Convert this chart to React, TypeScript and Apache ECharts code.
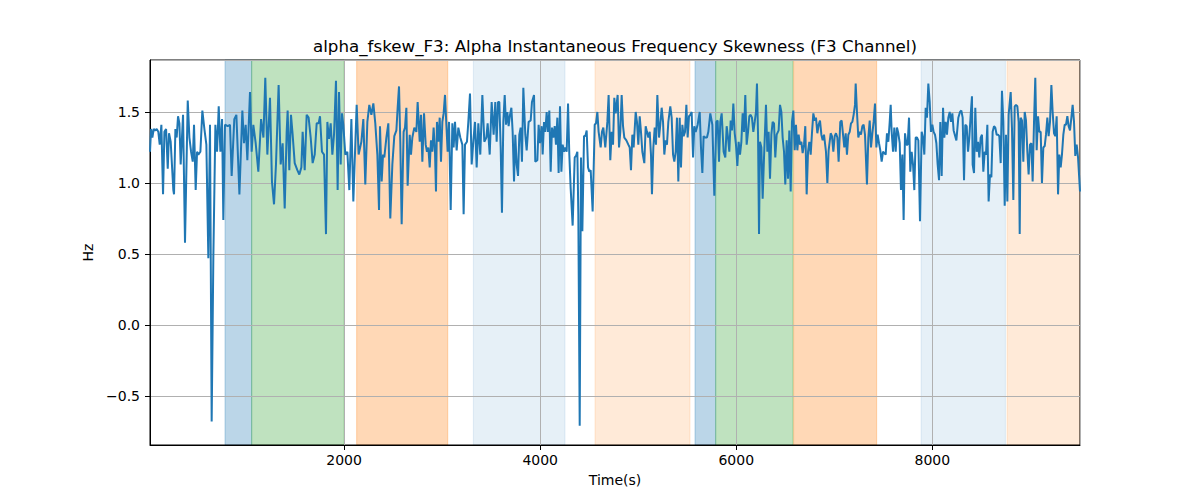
import { useEffect, useRef } from 'react';
import * as echarts from 'echarts';

const TITLE = 'alpha_fskew_F3: Alpha Instantaneous Frequency Skewness (F3 Channel)';
const X_NAME = 'Time(s)';
const Y_NAME = 'Hz';

// visible window of the axes
const X_MIN = 20;
const X_MAX = 9506;
const Y_MIN = -0.845;
const Y_MAX = 1.866;

// [time (s), Hz]
const samples: [number, number][] = [
  [20, 1.22], [31, 1.38], [44, 1.32], [58, 1.38], [71, 1.37], [88, 1.38], [105, 1.36], [119, 1.27],
  [136, 1.41], [153, 0.92], [167, 1.36], [184, 1.38], [201, 1.10], [214, 1.35], [231, 1.29], [258, 0.95],
  [265, 0.92], [279, 1.38], [292, 1.32], [306, 1.47], [320, 1.42], [333, 1.13], [357, 1.48], [377, 0.58],
  [405, 1.58], [422, 1.32], [439, 1.22], [456, 1.15], [469, 1.41], [486, 0.95], [500, 1.22], [513, 1.20],
  [534, 1.22], [554, 1.51], [575, 1.38], [595, 1.27], [615, 0.47], [632, 1.41], [649, -0.68], [666, 0.47],
  [687, 1.41], [704, 1.22], [721, 1.54], [738, 1.22], [755, 1.45], [768, 0.74], [785, 1.41], [813, 1.40],
  [836, 1.41], [853, 1.05], [880, 1.45], [901, 1.48], [932, 0.92], [962, 1.51], [979, 1.28], [996, 1.41],
  [1013, 1.16], [1040, 1.64], [1057, 1.22], [1074, 1.41], [1098, 1.28], [1125, 1.08], [1153, 1.45], [1177, 1.32],
  [1196, 1.74], [1217, 1.20], [1244, 1.60], [1264, 1.01], [1285, 0.85], [1305, 1.13], [1332, 1.69], [1353, 1.13],
  [1373, 1.28], [1394, 0.82], [1414, 1.36], [1424, 1.51], [1441, 1.09], [1458, 1.48], [1475, 1.34], [1496, 1.14],
  [1523, 1.09], [1543, 1.06], [1564, 1.11], [1577, 1.36], [1598, 1.09], [1618, 1.48], [1638, 1.46], [1659, 1.32],
  [1679, 1.14], [1700, 1.20], [1720, 1.42], [1740, 1.42], [1754, 1.47], [1774, 1.22], [1795, 1.20], [1815, 0.64],
  [1829, 1.43], [1846, 1.31], [1863, 1.42], [1880, 1.20], [1897, 1.34], [1917, 1.72], [1934, 0.95], [1948, 1.64],
  [1965, 1.13], [1978, 1.49], [1992, 1.41], [2012, 1.20], [2033, 1.22], [2053, 0.95], [2074, 1.45], [2094, 0.87],
  [2128, 1.55], [2148, 1.20], [2176, 1.29], [2196, 1.45], [2216, 0.99], [2237, 1.43], [2257, 1.55], [2278, 1.48],
  [2298, 1.56], [2318, 1.42], [2339, 1.20], [2356, 0.81],
  [2366, 1.40], [2383, 1.01], [2397, 1.20], [2410, 1.18], [2431, 1.32], [2451, 1.42], [2471, 0.75], [2492, 1.13],
  [2512, 1.33], [2533, 1.37], [2546, 1.53], [2560, 1.68], [2573, 1.29], [2587, 0.71], [2607, 1.36], [2621, 1.39],
  [2635, 1.53], [2648, 0.98], [2669, 1.34], [2682, 1.20], [2696, 1.32], [2716, 1.39], [2737, 1.36], [2750, 1.57],
  [2771, 1.29], [2784, 1.48], [2798, 1.15], [2815, 1.49], [2832, 1.27], [2845, 1.22], [2859, 1.25], [2873, 1.11],
  [2886, 1.30], [2900, 1.22], [2913, 1.39], [2927, 1.22], [2937, 0.94], [2947, 1.43], [2961, 1.29], [2975, 1.46],
  [2988, 1.15], [3002, 1.43], [3015, 1.49], [3029, 1.62], [3043, 1.41], [3056, 1.22], [3070, 1.43], [3087, 0.81],
  [3104, 1.42], [3117, 1.25], [3131, 1.43], [3148, 1.23], [3165, 1.39], [3185, 1.32], [3206, 1.27], [3219, 0.78],
  [3233, 1.27], [3253, 1.29], [3267, 1.43], [3284, 1.63], [3301, 1.13], [3321, 1.32], [3335, 1.43], [3352, 1.11],
  [3369, 1.42], [3389, 1.20], [3410, 1.62], [3430, 1.29], [3451, 1.32], [3464, 1.42], [3485, 1.20], [3505, 1.57],
  [3525, 1.34],
  [3542, 1.57], [3556, 1.29], [3570, 1.57], [3583, 1.57], [3597, 1.25], [3610, 0.79], [3624, 1.43], [3638, 1.62],
  [3651, 1.41], [3665, 1.50], [3678, 1.40], [3692, 1.48], [3706, 1.53], [3719, 1.36], [3733, 1.01], [3746, 1.34],
  [3760, 1.13], [3774, 1.05], [3787, 1.34], [3801, 1.39], [3814, 1.15], [3828, 1.67], [3848, 1.34], [3862, 1.23],
  [3882, 1.43], [3903, 1.44], [3916, 1.57], [3937, 1.62], [3950, 1.15], [3971, 1.16], [3984, 1.41], [3998, 1.28],
  [4015, 1.40], [4025, 1.20], [4039, 1.43], [4052, 1.36], [4066, 1.50], [4080, 1.36], [4093, 1.51], [4107, 1.08],
  [4120, 1.39], [4134, 1.32], [4148, 1.40], [4161, 1.27], [4175, 1.46], [4188, 1.07], [4202, 1.54], [4216, 1.08],
  [4229, 1.27], [4243, 1.22], [4256, 1.25], [4270, 1.22], [4284, 1.56], [4297, 1.20], [4311, 0.96], [4331, 0.70],
  [4352, 1.18], [4365, 1.19], [4379, 1.22], [4389, 0.78], [4403, -0.71], [4416, 1.18], [4430, 0.66], [4447, 1.33],
  [4460, 1.33], [4474, 1.37], [4488, 1.11], [4501, 1.08], [4515, 1.09], [4535, 0.80], [4556, 1.41], [4569, 1.42],
  [4583, 1.50], [4596, 1.36], [4617, 1.25], [4630, 1.36], [4644, 1.39], [4664, 1.25], [4685, 1.43], [4698, 1.62],
  [4715, 1.16], [4729, 1.36], [4743, 1.27], [4756, 1.60], [4770, 1.49], [4790, 1.62], [4804, 1.25], [4817, 1.36],
  [4831, 1.62], [4845, 1.40], [4858, 1.32], [4879, 1.30], [4899, 1.27], [4913, 1.25], [4926, 1.09], [4940, 1.34],
  [4953, 1.25], [4974, 1.50], [4987, 1.43], [5001, 1.27], [5015, 1.47], [5028, 1.36], [5042, 1.22], [5062, 1.14],
  [5076, 1.40], [5089, 1.36], [5103, 1.32], [5117, 1.36], [5130, 1.20], [5140, 0.92], [5154, 1.25], [5168, 1.39],
  [5181, 1.27], [5195, 1.62], [5212, 1.32], [5225, 1.41], [5239, 1.53], [5253, 1.43], [5266, 1.20], [5280, 1.30],
  [5293, 1.27], [5307, 1.43], [5327, 1.54], [5341, 1.46], [5355, 1.20], [5368, 1.15], [5382, 1.22], [5395, 1.46],
  [5409, 1.01], [5423, 1.46], [5436, 1.11], [5450, 1.41], [5463, 1.33], [5477, 1.36], [5491, 1.55], [5504, 1.32],
  [5518, 1.47], [5531, 1.48], [5545, 1.50], [5559, 1.18], [5572, 1.40], [5586, 1.36], [5606, 1.41], [5627, 1.50],
  [5640, 1.25], [5654, 1.07], [5667, 1.33], [5681, 1.32], [5701, 1.32], [5715, 1.36], [5735, 1.49], [5756, 1.41],
  [5776, 0.91], [5797, 1.43], [5810, 1.44], [5824, 1.15], [5837, 1.43], [5851, 1.49], [5871, 1.22],
  [5888, 1.18], [5902, 1.40], [5916, 1.32], [5929, 1.22], [5943, 1.44], [5956, 1.37], [5970, 1.56], [5984, 1.35],
  [5997, 1.27], [6011, 1.12], [6024, 1.29], [6038, 1.20], [6052, 1.29], [6065, 1.49], [6079, 1.36], [6092, 1.62],
  [6106, 1.27], [6120, 1.36], [6133, 1.47], [6147, 1.48], [6160, 1.46], [6174, 1.36], [6188, 1.43], [6201, 1.50],
  [6211, 1.70], [6222, 1.34], [6232, 0.64], [6242, 1.29], [6256, 1.25], [6269, 0.89], [6283, 1.18], [6303, 1.55],
  [6317, 1.22], [6330, 1.36], [6344, 1.03], [6358, 1.34], [6371, 1.43], [6385, 1.42], [6398, 1.18], [6412, 1.34],
  [6432, 1.37], [6446, 1.55], [6460, 1.50], [6473, 1.32], [6487, 1.22], [6500, 0.99], [6514, 1.30], [6528, 1.03],
  [6541, 1.37], [6555, 0.94], [6568, 1.43], [6582, 1.51], [6596, 1.23], [6609, 1.41], [6623, 1.23], [6636, 1.34],
  [6650, 1.27], [6664, 1.29], [6677, 1.21], [6691, 1.27], [6704, 1.40], [6718, 0.92], [6732, 1.22], [6745, 1.29],
  [6759, 1.20], [6772, 1.35], [6786, 1.49], [6800, 1.44], [6813, 1.46], [6827, 1.35], [6840, 1.41], [6854, 1.44],
  [6868, 1.34], [6881, 1.30], [6895, 1.34], [6915, 1.22], [6929, 1.00], [6942, 1.23], [6963, 1.35], [6976, 1.33],
  [6990, 1.22], [7004, 1.33], [7017, 1.35], [7031, 1.32], [7044, 1.15],
  [7061, 1.43], [7075, 1.44], [7089, 1.34], [7102, 1.25], [7116, 1.35], [7129, 1.20], [7143, 1.34], [7157, 1.36],
  [7170, 1.42], [7184, 1.43], [7197, 1.48], [7211, 1.55], [7218, 1.70], [7231, 1.50], [7245, 1.32], [7259, 1.36],
  [7272, 1.34], [7286, 1.40], [7299, 1.41], [7313, 1.34], [7333, 0.99], [7347, 1.32], [7361, 1.44], [7374, 1.25],
  [7388, 1.35], [7401, 1.43], [7415, 1.56], [7429, 1.25], [7442, 1.34], [7456, 1.28], [7469, 1.23], [7483, 1.15],
  [7497, 1.22], [7510, 1.21], [7524, 1.20], [7537, 1.35], [7551, 1.29], [7565, 1.43], [7575, 1.55], [7585, 1.36],
  [7599, 1.22], [7612, 1.39], [7626, 1.22], [7639, 1.39], [7653, 1.35], [7667, 1.28], [7680, 0.95], [7694, 1.20],
  [7707, 0.74], [7721, 1.35], [7735, 1.27], [7748, 1.27], [7762, 1.46], [7775, 1.08], [7789, 1.22], [7803, 1.13],
  [7816, 0.95], [7830, 1.32], [7843, 1.32], [7857, 1.30], [7874, 0.73], [7891, 1.36], [7905, 1.32], [7918, 1.20],
  [7932, 1.53], [7945, 1.46], [7959, 1.70], [7973, 1.57], [7986, 1.36], [8000, 1.41], [8013, 1.36], [8027, 1.34],
  [8041, 1.28], [8054, 1.13], [8068, 1.02], [8081, 1.43], [8095, 1.05], [8109, 1.53], [8122, 1.32], [8136, 1.43],
  [8149, 1.34], [8163, 1.46], [8177, 1.50], [8190, 1.43], [8204, 1.49], [8217, 1.37], [8245, 1.30], [8265, 1.46],
  [8282, 1.50], [8296, 1.51], [8309, 1.46], [8323, 1.02], [8336, 1.41], [8350, 1.40], [8364, 1.22], [8377, 1.32],
  [8391, 1.48], [8404, 1.61], [8411, 1.13], [8425, 1.07], [8438, 1.53], [8452, 1.22], [8466, 1.29], [8479, 1.18],
  [8493, 1.32], [8506, 1.34], [8520, 1.08], [8534, 1.22], [8547, 1.20], [8561, 1.41], [8574, 0.87], [8588, 1.06],
  [8602, 1.04], [8615, 1.36], [8629, 1.40], [8642, 1.39], [8656, 1.34], [8670, 1.34], [8683, 1.33], [8697, 1.14],
  [8710, 1.65], [8724, 1.43], [8738, 0.84], [8751, 1.34], [8765, 0.87], [8778, 1.48], [8799, 1.64], [8812, 1.39],
  [8826, 0.88], [8840, 1.54], [8853, 1.55], [8867, 1.54], [8880, 1.43], [8891, 0.64], [8901, 1.46], [8914, 1.44],
  [8928, 1.15], [8942, 1.50], [8955, 1.44], [8969, 1.22], [8982, 1.06], [8996, 1.27], [9010, 1.28], [9023, 1.01],
  [9037, 1.43], [9050, 1.74], [9064, 1.23], [9078, 1.47], [9091, 1.36], [9105, 1.36], [9118, 1.00], [9132, 1.25],
  [9146, 1.26], [9159, 1.34], [9173, 1.46], [9186, 1.33], [9200, 1.43], [9214, 1.69], [9227, 1.50], [9241, 1.35],
  [9254, 1.33], [9268, 1.47], [9282, 0.92], [9295, 1.20], [9309, 1.11], [9322, 1.20], [9336, 1.34], [9350, 1.41],
  [9363, 1.41], [9377, 1.47], [9390, 1.40], [9404, 1.37], [9418, 1.46], [9431, 1.55], [9445, 1.43], [9458, 1.19],
  [9472, 1.27], [9486, 1.18], [9506, 0.94],
];

// shaded phases behind the trace
const spanStart = [785, 1057, 2128, 3318, 4559, 5579, 5790, 6585, 7885, 8762];
const spanEnd = [1057, 2000, 3057, 4253, 5528, 5790, 6579, 7432, 8745, 9510];
const spanKind = ['blue', 'green', 'orange', 'paleBlue', 'paleOrange', 'blue', 'green', 'orange', 'paleBlue', 'paleOrange'];

const SPAN_COLORS: Record<string, string> = {
  blue: 'rgba(31,119,180,0.3)',
  green: 'rgba(44,160,44,0.3)',
  orange: 'rgba(255,127,14,0.3)',
  paleBlue: 'rgba(31,119,180,0.11)',
  paleOrange: 'rgba(255,127,14,0.16)',
};

const FONT = 'DejaVu Sans, sans-serif';

const axisCommon = {
  axisLine: { show: true, onZero: false, lineStyle: { color: '#000', width: 1 } },
  axisTick: { show: true, length: 5, lineStyle: { color: '#000', width: 1 } },
  splitLine: { show: true, lineStyle: { color: '#b0b0b0', width: 1 } },
  nameTextStyle: { color: '#000', fontSize: 14, fontFamily: FONT },
};

export default function App() {
  const chartRef = useRef<HTMLDivElement>(null);

  useEffect(() => {
    document.body.style.margin = '0';
    if (!chartRef.current) return;
    const chart = echarts.init(chartRef.current, undefined, { renderer: 'svg' });

    chart.setOption({
      animation: false,
      backgroundColor: '#fff',
      graphic: [{
        type: 'text',
        x: 615,
        y: 46,
        style: {
          text: TITLE,
          fill: '#000',
          font: `16.7px ${FONT}`,
          align: 'center',
          verticalAlign: 'middle',
        },
      }],
      grid: {
        left: 150, top: 60, width: 930, height: 385,
        show: true, borderColor: '#000', borderWidth: 1, backgroundColor: 'transparent',
      },
      xAxis: {
        type: 'value',
        min: X_MIN,
        max: X_MAX,
        name: X_NAME,
        nameLocation: 'middle',
        nameGap: 28,
        ...axisCommon,
        axisLabel: {
          showMinLabel: false, showMaxLabel: false,
          color: '#000', fontSize: 14, fontFamily: FONT, margin: 8,
          formatter: (v: number) => String(v),
        },
      },
      yAxis: {
        type: 'value',
        min: Y_MIN,
        max: Y_MAX,
        name: Y_NAME,
        nameLocation: 'middle',
        nameGap: 48,
        ...axisCommon,
        axisLabel: {
          showMinLabel: false, showMaxLabel: false,
          color: '#000', fontSize: 14, fontFamily: FONT, margin: 10,
          formatter: (v: number) => v.toFixed(1).replace('-', '\u2212'),
        },
      },
      series: [{
        type: 'line',
        data: samples,
        showSymbol: false,
        symbol: 'none',
        silent: true,
        lineStyle: { color: '#1f77b4', width: 2 },
        emphasis: { disabled: true },
        z: 3,
        markArea: {
          silent: true,
          z: -1,
          label: { show: false },
          data: spanStart.map((s, i) => [
            {
              xAxis: s,
              itemStyle: {
                color: SPAN_COLORS[spanKind[i]],
                borderColor: SPAN_COLORS[spanKind[i]],
                borderWidth: 1,
              },
            },
            { xAxis: spanEnd[i] },
          ]),
        },
      }],
    });

    return () => { chart.dispose(); };
  }, []);

  return <div ref={chartRef} style={{ width: 1200, height: 500 }} />;
}
